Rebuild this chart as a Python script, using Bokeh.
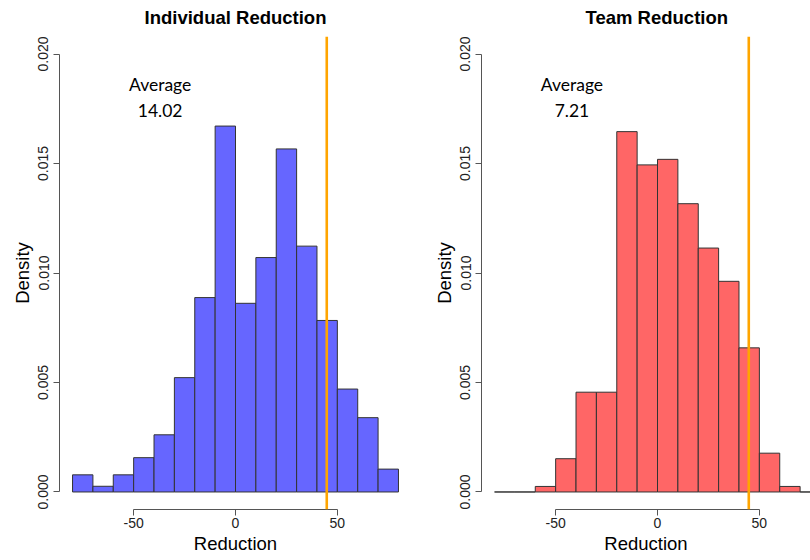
from bokeh.plotting import figure
from bokeh.layouts import row
from bokeh.models import Span, FixedTicker, PrintfTickFormatter
from bokeh.core.properties import value
from bokeh.embed import file_html
from bokeh.resources import INLINE

# ---- data ----
bin_edges = [-80, -70, -60, -50, -40, -30, -20, -10, 0, 10, 20, 30, 40, 50, 60, 70, 80]
individual_density = [0.000783, 0.000261, 0.000783, 0.001567, 0.002611, 0.005222,
                      0.008877, 0.016710, 0.008616, 0.010705, 0.015666, 0.011227,
                      0.007833, 0.004700, 0.003394, 0.001044]
team_density = [0.0, 0.0, 0.000253, 0.001519, 0.004557, 0.004557,
                0.016456, 0.014937, 0.015190, 0.013165, 0.011139, 0.009620,
                0.006582, 0.001772, 0.000253, 0.0]
titles = ["Individual Reduction", "Team  Reduction"]
average_labels = ["Average\n14.02", "Average\n7.21"]
average_label_x = [-37, -42]
average_label_y = 0.018
threshold = 44.8
y_ticks = [0.0, 0.005, 0.010, 0.015, 0.020]
x_ticks = [-50, 0, 50]
x_label = "Reduction"
y_label = "Density"

FONT = "Liberation Sans"
AXIS_COLOR = "#555555"


def make_panel(title, dens, color, avg_text, avg_x, width, x_end, border_right, title_align, title_offset):
    p = figure(width=width, height=560, x_range=(-86.4, x_end), y_range=(-0.0008, 0.0208),
               output_backend="svg", toolbar_location=None,
               min_border_left=59, min_border_right=border_right,
               min_border_top=36, min_border_bottom=51)
    p.outline_line_color = None
    p.grid.visible = False
    p.background_fill_color = "white"

    p.quad(left=bin_edges[:-1], right=bin_edges[1:], bottom=0, top=dens,
           fill_color=color, line_color="#333333", line_width=1)
    p.add_layout(Span(location=threshold, dimension="height", line_color="orange", line_width=2.6))
    p.text(x=[avg_x], y=[average_label_y], text=[avg_text], text_font=value("Lato"),
           text_font_size=value("17.5px"), text_align="center", text_baseline="middle",
           text_color="black", text_line_height=1.25)

    p.title.text = title
    p.title.align = title_align
    p.title.offset = title_offset
    p.title.vertical_align = "top"
    p.title.text_font = FONT
    p.title.text_font_size = "18.5px"
    p.title.text_font_style = "bold"
    p.title.text_color = "black"
    p.title.standoff = 13

    xa = p.xaxis[0]
    xa.ticker = FixedTicker(ticks=x_ticks)
    xa.formatter = PrintfTickFormatter(format="%d")
    xa.bounds = (x_ticks[0], x_ticks[-1])
    xa.axis_label = x_label
    ya = p.yaxis[0]
    ya.ticker = FixedTicker(ticks=y_ticks)
    ya.formatter = PrintfTickFormatter(format="%.3f")
    ya.bounds = (y_ticks[0], y_ticks[-1])
    ya.major_label_orientation = "vertical"
    ya.axis_label = y_label
    for ax in (xa, ya):
        ax.axis_line_color = AXIS_COLOR
        ax.major_tick_line_color = AXIS_COLOR
        ax.minor_tick_line_color = None
        ax.major_tick_out = 6
        ax.major_tick_in = 0
        ax.major_label_text_font = FONT
        ax.major_label_text_font_size = "14px"
        ax.major_label_text_color = "#222222"
        ax.axis_label_text_font = FONT
        ax.axis_label_text_font_size = "18.5px"
        ax.axis_label_text_font_style = "normal"
        ax.axis_label_text_color = "black"
    xa.major_label_standoff = 2
    xa.axis_label_standoff = 2
    ya.major_label_standoff = 5
    ya.axis_label_standoff = 3
    return p


p1 = make_panel(titles[0], individual_density, "#6666FF", average_labels[0], average_label_x[0],
                422, 86.4, 11, "center", 0)
p2 = make_panel(titles[1], team_density, "#FF6666", average_labels[1], average_label_x[1],
                388, 75.1, 0, "left", 104)

layout = row(p1, p2)
open("out.html", "w").write(file_html(layout, INLINE))
